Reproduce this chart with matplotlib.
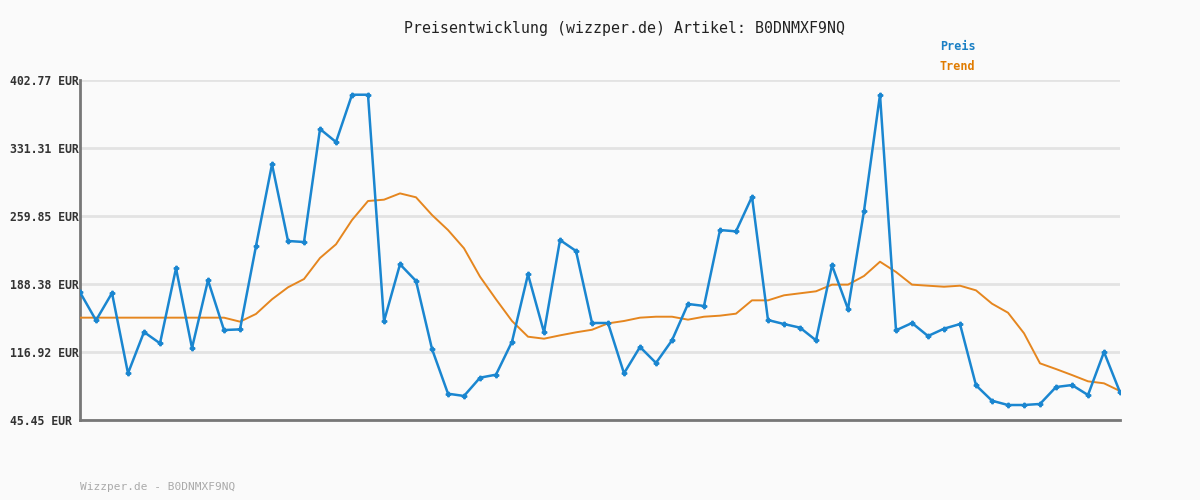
import matplotlib
matplotlib.use("Agg")
import matplotlib.pyplot as plt
import numpy as np

title = "Preisentwicklung (wizzper.de) Artikel: B0DNMXF9NQ"
footer = "Wizzper.de - B0DNMXF9NQ"
tick_values = [45.45, 116.92, 188.38, 259.85, 331.31, 402.77]
tick_labels = ["45.45 EUR", "116.92 EUR", "188.38 EUR", "259.85 EUR", "331.31 EUR", "402.77 EUR"]

preis = [179.7, 150.2, 178.9, 94.5, 137.9, 126.0, 204.9, 121.1, 192.3, 140.0,
         140.7, 228.3, 314.2, 233.6, 232.5, 351.3, 337.6, 387.3, 387.3, 149.2,
         209.1, 191.6, 120.1, 73.1, 70.7, 89.9, 93.1, 127.7, 198.5, 137.6,
         234.6, 223.1, 147.4, 147.4, 94.5, 122.2, 105.4, 129.2, 167.4, 165.3,
         245.1, 243.7, 280.1, 150.5, 146.3, 142.5, 129.2, 208.0, 162.1, 265.1,
         387.3, 139.7, 147.4, 133.7, 141.4, 146.3, 81.9, 65.7, 61.2, 61.2,
         62.3, 80.1, 82.2, 71.7, 116.9, 74.6]

trend = [153.0, 153.0, 153.0, 153.0, 153.0, 153.0, 153.0, 153.0, 153.0, 153.0,
         148.8, 156.9, 172.3, 184.9, 193.6, 215.7, 230.1, 255.6, 275.6, 277.0,
         283.6, 279.5, 260.9, 245.1, 225.9, 196.1, 172.3, 149.5, 133.0, 130.9,
         134.4, 137.6, 140.3, 147.0, 149.5, 153.0, 154.0, 154.0, 150.9, 154.0,
         155.1, 157.2, 171.2, 171.2, 176.5, 178.6, 180.7, 187.7, 187.7, 196.8,
         211.8, 201.0, 187.7, 186.6, 185.5, 186.6, 181.7, 167.7, 158.2, 136.6,
         105.0, 99.0, 92.7, 86.1, 84.0, 75.9]

bg = "#fafafa"
blue = "#1a86d0"
orange = "#e5861f"

fig = plt.figure(figsize=(12, 5), dpi=100, facecolor=bg)
ax = fig.add_axes([80/1200, 80/500, 1040/1200, 340/500], facecolor=bg)

x = np.arange(len(preis))
ax.plot(x, trend, color=orange, lw=1.4, zorder=3)
ax.plot(x, preis, color=blue, lw=1.8, marker="P", markersize=3.2, zorder=4)

ax.set_xlim(0, len(preis) - 1)
ax.set_ylim(tick_values[0], tick_values[-1])
ax.set_xticks([])
ax.set_yticks(tick_values)
ax.set_yticklabels(tick_labels, fontfamily="DejaVu Sans Mono", fontsize=8.3,
                   fontweight="bold", color="#333333")
for lbl in ax.get_yticklabels():
    lbl.set_horizontalalignment("left")
ax.tick_params(axis="y", length=0, pad=50.5)
ax.grid(axis="y", color="#e3e3e3", lw=2)
ax.set_axisbelow(True)
for s in ["top", "right"]:
    ax.spines[s].set_visible(False)
for s in ["left", "bottom"]:
    ax.spines[s].set_color("#777777")
    ax.spines[s].set_linewidth(2)

fig.text(624/1200, 1 - 28/500, title, ha="center", va="center",
         fontfamily="DejaVu Sans Mono", fontsize=10.7, color="#222222")
fig.text(940/1200, 1 - 47/500, "Preis", ha="left", va="center",
         fontfamily="DejaVu Sans Mono", fontsize=8.5, fontweight="bold", color="#1a7fc4")
fig.text(940/1200, 1 - 67/500, "Trend", ha="left", va="center",
         fontfamily="DejaVu Sans Mono", fontsize=8.5, fontweight="bold", color="#e07b00")
fig.text(80/1200, 1 - 487/500, footer, ha="left", va="center",
         fontfamily="DejaVu Sans Mono", fontsize=8, color="#aaaaaa")

fig.savefig("out.png", dpi=100, facecolor=bg)
